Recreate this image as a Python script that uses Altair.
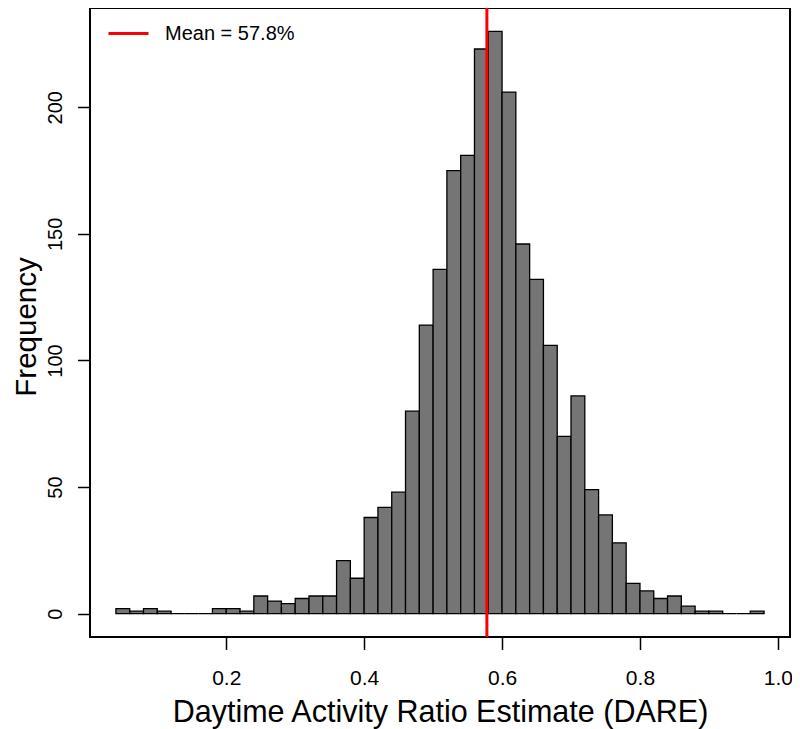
import altair as alt
import pandas as pd

# Histogram bins (left edges, width 0.02) and counts
bin_start = [0.04, 0.06, 0.08, 0.10, 0.12, 0.14, 0.16, 0.18, 0.20, 0.22,
             0.24, 0.26, 0.28, 0.30, 0.32, 0.34, 0.36, 0.38, 0.40, 0.42,
             0.44, 0.46, 0.48, 0.50, 0.52, 0.54, 0.56, 0.58, 0.60, 0.62,
             0.64, 0.66, 0.68, 0.70, 0.72, 0.74, 0.76, 0.78, 0.80, 0.82,
             0.84, 0.86, 0.88, 0.90, 0.92, 0.94, 0.96]
bin_width = 0.02
counts = [2, 1, 2, 1, 0, 0, 0, 2, 2, 1,
          7, 5, 4, 6, 7, 7, 21, 14, 38, 42,
          48, 80, 114, 136, 175, 181, 223, 230, 206, 146,
          132, 106, 70, 86, 49, 39, 28, 12, 9, 6,
          7, 3, 1, 1, 0, 0, 1]

mean_value = 0.578
mean_label = "Mean = 57.8%"

x_ticks = [0.2, 0.4, 0.6, 0.8, 1.0]
y_ticks = [0, 50, 100, 150, 200]
x_domain = [0.0024, 1.0176]
y_domain = [-9.2, 239.2]

W, H = 700, 629
FONT = "Liberation Sans"

hist = pd.DataFrame({
    "start": bin_start,
    "end": [round(s + bin_width, 2) for s in bin_start],
    "count": counts,
    "zero": [0] * len(counts),
})
mean_df = pd.DataFrame({"mean": [mean_value], "label": [mean_label]})

xscale = alt.Scale(domain=x_domain, nice=False, zero=False)
yscale = alt.Scale(domain=y_domain, nice=False, zero=False)

bars = alt.Chart(hist).mark_bar(
    color="#757575", stroke="black", strokeWidth=1.3, opacity=1
).encode(
    x=alt.X("start:Q", scale=xscale,
            axis=alt.Axis(values=x_ticks, format=".1f",
                          title="Daytime Activity Ratio Estimate (DARE)",
                          labelFontSize=21, labelBaseline="alphabetic",
                          labelPadding=35, tickSize=12.5,
                          titleFontSize=30.5, titleFontWeight="normal",
                          titleBaseline="alphabetic", titleY=84,
                          titleX=W / 2, titleAlign="center")),
    x2="end:Q",
    y=alt.Y("count:Q", scale=yscale,
            axis=alt.Axis(values=y_ticks, format="d", title="Frequency",
                          labelFontSize=20, labelAngle=270,
                          labelAlign="center", labelBaseline="alphabetic",
                          labelPadding=16.5, tickSize=12.5,
                          titleFontSize=29.5, titleFontWeight="normal",
                          titleAngle=270, titleBaseline="alphabetic",
                          titleAlign="center", titleX=-55,
                          titleY=H / 2 + 4)),
    y2="zero:Q",
)

rule = alt.Chart(mean_df).mark_rule(strokeWidth=3).encode(
    x=alt.X("mean:Q", scale=xscale),
    color=alt.Color(
        "label:N",
        scale=alt.Scale(domain=[mean_label], range=["#FF0000"]),
        legend=alt.Legend(
            title=None, orient="none", legendX=17, legendY=4,
            symbolType="stroke", symbolSize=1600, symbolStrokeWidth=3,
            labelFontSize=20, labelOffset=15, padding=0,
            labelFont=FONT, labelColor="black",
        ),
    ),
)

chart = alt.layer(bars, rule).properties(
    width=W, height=H,
    autosize=alt.AutoSizeParams(type="none"),
    padding={"left": 82, "top": 0, "right": 2, "bottom": 92},
    background="white",
).configure_view(
    stroke="black", strokeWidth=2
).configure_axis(
    domain=False, grid=False, tickColor="black", tickWidth=1.5,
    labelColor="black", titleColor="black", labelFont=FONT, titleFont=FONT,
)

chart.save("out.html", embed_options={"renderer": "svg", "actions": False})
